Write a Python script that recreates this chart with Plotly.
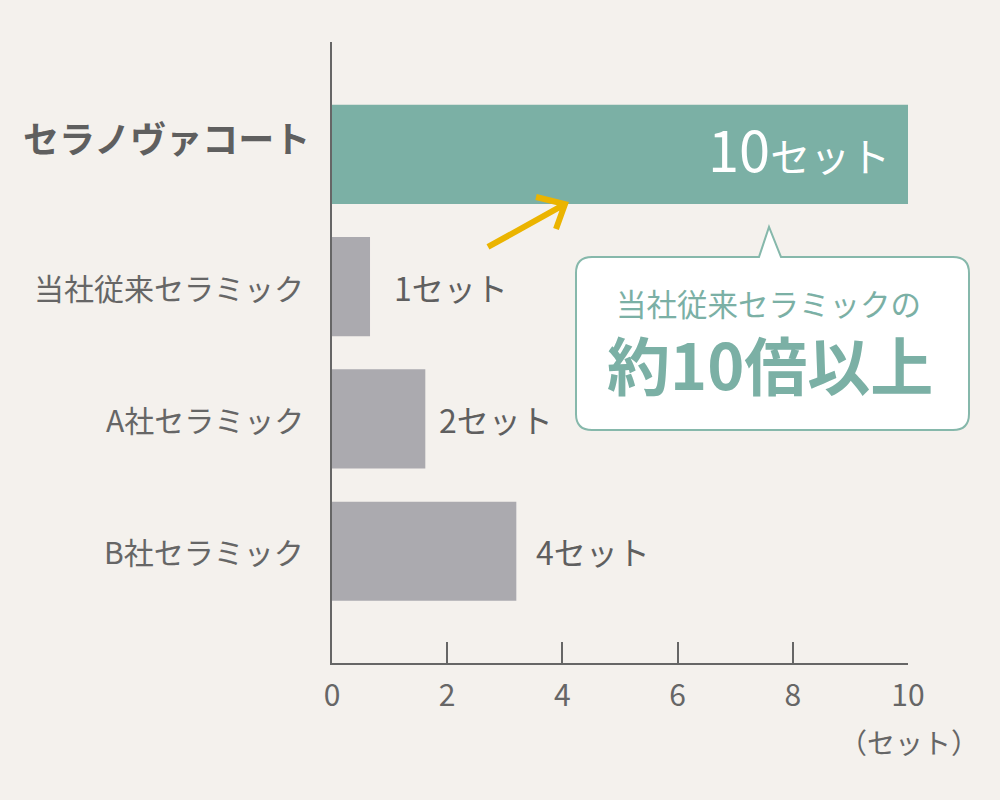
import plotly.graph_objects as go

# data (bottom to top)
categories = ["B社セラミック", "A社セラミック", "当社従来セラミック", "セラノヴァコート"]
bar_values = [3.2, 1.62, 0.66, 10]
value_labels = ["4セット", "2セット", "1セット", "10セット"]
tick_vals = [0, 2, 4, 6, 8, 10]

FONT = "Noto Sans CJK JP"
TEXT = "#666666"
GREEN = "#7bb0a5"
GRAY = "#abaaaf"
BG = "#f4f1ed"

colors = [GRAY, GRAY, GRAY, GREEN]

fig = go.Figure()
fig.add_trace(go.Bar(
    x=bar_values,
    y=categories,
    orientation="h",
    marker=dict(color=colors, line=dict(width=0)),
    width=0.75,
    hoverinfo="skip",
))

annotations = []

# category labels on the left
for cat in categories:
    big = cat == "セラノヴァコート"
    annotations.append(dict(
        x=0, xref="paper", y=cat, yref="y",
        text=f"<b>{cat}</b>" if big else cat,
        xanchor="right", yanchor="middle",
        xshift=-20 if big else -26,
        yshift=17 if big else 0,
        showarrow=False,
        font=dict(family=FONT, size=36 if big else 30, color="#5f5f5f" if big else TEXT),
    ))

# value labels
label_shift = [18, 12, 22]
for i, (cat, v, lab) in enumerate(zip(categories, bar_values, value_labels)):
    if cat == "セラノヴァコート":
        num = lab.replace("セット", "")
        annotations.append(dict(
            x=v, y=cat, xref="x", yref="y",
            text=f"<span style='font-size:56px'>{num}</span>セット",
            xanchor="right", yanchor="middle", xshift=-16, yshift=7,
            showarrow=False,
            font=dict(family=FONT, size=40, color="white"),
        ))
    else:
        annotations.append(dict(
            x=v, y=cat, xref="x", yref="y",
            text=lab,
            xanchor="left", yanchor="middle", xshift=label_shift[i],
            showarrow=False,
            font=dict(family=FONT, size=32, color="#5f5f5f"),
        ))

# unit label
annotations.append(dict(
    x=1.0017, y=-0.127, xref="paper", yref="paper",
    text="（セット）", showarrow=False,
    xanchor="center", yanchor="middle",
    font=dict(family=FONT, size=28, color=TEXT),
))

# callout text
annotations.append(dict(
    x=0.757, y=0.5805, xref="paper", yref="paper",
    text="当社従来セラミックの", showarrow=False,
    xanchor="center", yanchor="middle", borderpad=0,
    font=dict(family=FONT, size=30.5, color=GREEN),
))
annotations.append(dict(
    x=0.760, y=0.484, xref="paper", yref="paper",
    text="<b>約10倍以上</b>", showarrow=False,
    xanchor="center", yanchor="middle", borderpad=0,
    font=dict(family=FONT, size=63, color=GREEN),
))

# callout bubble
L, R, T, B = 0.4236, 1.1059, 0.6538, 0.3752
rx, ry = 0.0278, 0.0258
bl, apx, apy, br = 0.7413, 0.7587, 0.7021, 0.7795
bubble = (
    f"M {L+rx},{T} L {bl},{T} L {apx},{apy} L {br},{T} L {R-rx},{T} "
    f"Q {R},{T} {R},{T-ry} L {R},{B+ry} Q {R},{B} {R-rx},{B} "
    f"L {L+rx},{B} Q {L},{B} {L},{B+ry} L {L},{T-ry} Q {L},{T} {L+rx},{T} Z"
)

# yellow arrow
arrow = (
    "M 0.2708,0.6699 L 0.4045,0.7391 "
    "M 0.3542,0.7504 L 0.4045,0.7391 L 0.3889,0.6989"
)

shapes = [
    dict(type="path", path=bubble, xref="paper", yref="paper",
         fillcolor="white", line=dict(color="#86b8ab", width=2), layer="above"),
    dict(type="path", path=arrow, xref="paper", yref="paper",
         fillcolor="rgba(0,0,0,0)", line=dict(color="#ebb400", width=6), layer="above"),
]

fig.update_layout(
    width=1000, height=800,
    margin=dict(l=332, r=92, t=42, b=137),
    paper_bgcolor=BG, plot_bgcolor=BG,
    showlegend=False,
    bargap=0.25,
    annotations=annotations,
    shapes=shapes,
    xaxis=dict(
        range=[0, 10],
        tickvals=tick_vals,
        ticks="inside", ticklen=21, tickwidth=1.5, tickcolor=TEXT,
        showline=True, linecolor=TEXT, linewidth=1.5,
        showgrid=False, zeroline=False,
        tickfont=dict(family=FONT, size=30, color=TEXT),
        ticklabelstandoff=5,
        fixedrange=True,
    ),
    yaxis=dict(
        range=[-0.845, 3.85],
        showticklabels=False, ticks="",
        showline=True, linecolor=TEXT, linewidth=1.5,
        showgrid=False, zeroline=False,
        fixedrange=True,
    ),
)

fig.write_html(
    "out.html",
    config={"displayModeBar": False},
    post_script="document.body.style.margin='0px';",
)
